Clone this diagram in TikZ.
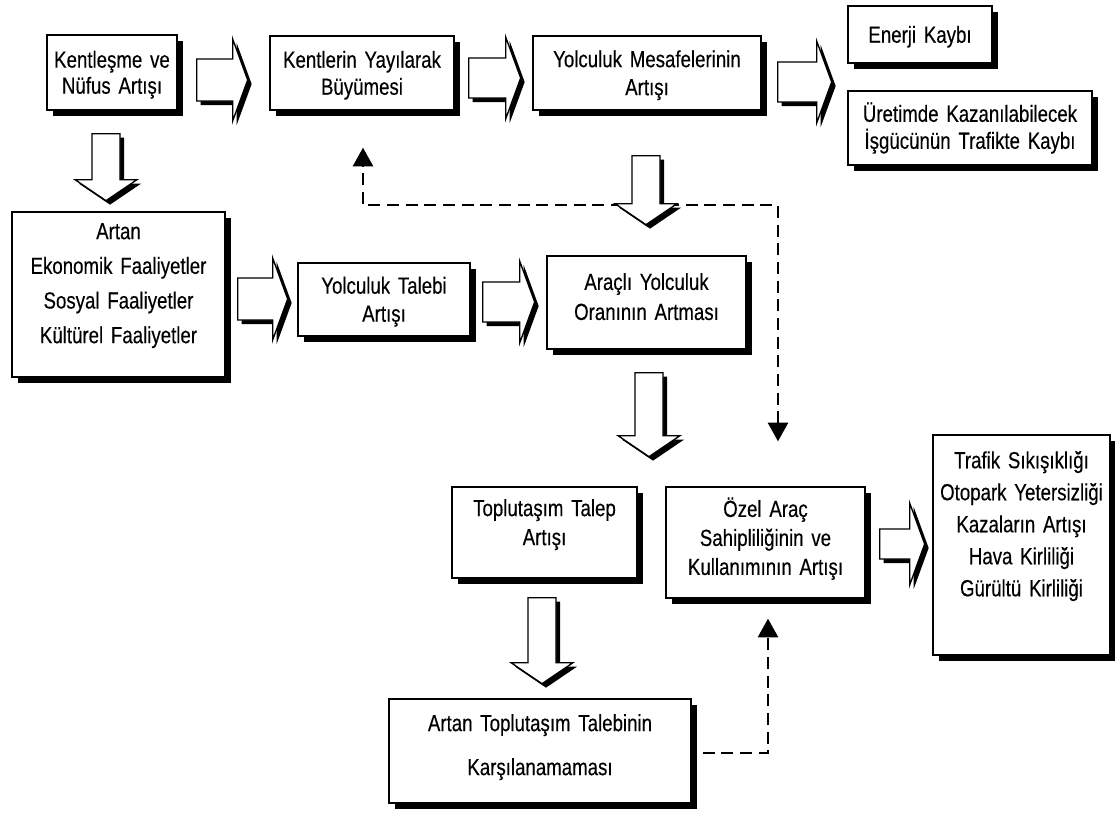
\documentclass[tikz,border=0pt]{standalone}
\usepackage{fontspec}
\setmainfont{Liberation Sans}[FakeStretch=0.80,FakeBold=0.3]
\usetikzlibrary{shadows,arrows.meta,calc}
\newcommand\fsz[1]{\fontsize{17.5pt}{#1}\selectfont}
\newcommand\upby[1]{\rule[-#1]{0pt}{0pt}}
\newcommand\downby[1]{\rule{0pt}{#1}}
\begin{document}
\begin{tikzpicture}[x=0.75pt,y=-0.75pt,
  box/.style={draw, line width=1pt, fill=white, inner sep=0pt, align=center,
    drop shadow={shadow xshift=4.5pt,shadow yshift=-4.5pt,opacity=1,fill=black}},
  barrow/.style={draw, line width=1pt, fill=white, line join=miter,
    drop shadow={shadow xshift=3pt,shadow yshift=-3pt,opacity=1,fill=black}},
  dashline/.style={line width=2pt, dash pattern=on 9pt off 5pt},
  tip/.style={-{Triangle[width=15pt,length=14pt]}},
  pics/rarr/.style 2 args={code={
    \path[barrow] (0,-#2) -- ({#1-15},-#2) -- ({#1-15},-41) -- (#1,0) -- ({#1-15},41) -- ({#1-15},#2) -- (0,#2) -- cycle;}},
  pics/darr/.style={code={
    \path[barrow] (-14,0) -- (-14,{#1-21}) -- (-31,{#1-21}) -- (0,#1) -- (31,{#1-21}) -- (14,{#1-21}) -- (14,0) -- cycle;}},
]
\fill[white] (0,0) rectangle (1115,814);
\useasboundingbox (0,0) rectangle (1115,814);

% boxes
\node[box, minimum width=97.5pt, minimum height=56.25pt, text width=95pt, font=\fsz{19.5pt}] (A) at (112,72.5) {\downby{16pt}Kentleşme ve\\Nüfus Artışı};
\node[box, minimum width=138pt, minimum height=55.5pt, text width=134pt, font=\fsz{20.25pt}] (B) at (362,73) {\downby{16pt}Kentlerin Yayılarak\\Büyümesi};
\node[box, minimum width=171pt, minimum height=55.5pt, text width=167pt, font=\fsz{21pt}] (C) at (647,73) {\downby{16pt}Yolculuk Mesafelerinin\\Artışı};
\node[box, minimum width=108pt, minimum height=42.75pt, text width=104pt, font=\fsz{20pt}] (D) at (920,34.5) {\downby{16pt}Enerji Kaybı};
\node[box, minimum width=183pt, minimum height=55.5pt, text width=180pt, font=\fsz{20.25pt}] (E) at (970,128) {Üretimde Kazanılabilecek\\İşgücünün Trafikte Kaybı};
\node[box, minimum width=159.75pt, minimum height=123.75pt, text width=156pt, font=\fsz{26pt}] (F) at (118.5,294.5) {Artan\\Ekonomik Faaliyetler\\Sosyal Faaliyetler\\Kültürel Faaliyetler\upby{17pt}};
\node[box, minimum width=129pt, minimum height=54.75pt, text width=125pt, font=\fsz{21pt}] (G) at (384,299.5) {\downby{16pt}Yolculuk Talebi\\Artışı};
\node[box, minimum width=149.25pt, minimum height=69.75pt, text width=145pt, font=\fsz{22.5pt}] (H) at (646.5,302.5) {Araçlı Yolculuk\\Oranının Artması\upby{9pt}};
\node[box, minimum width=138.75pt, minimum height=68.25pt, text width=135pt, font=\fsz{21.75pt}] (I) at (544.5,532.5) {Toplutaşım Talep\\Artışı\upby{15.5pt}};
\node[box, minimum width=149.25pt, minimum height=83.25pt, text width=145pt, font=\fsz{21.75pt}] (J) at (765.5,542.5) {Özel Araç\\Sahipliliğinin ve\\Kullanımının Artışı\upby{9.5pt}};
\node[box, minimum width=132.75pt, minimum height=165pt, text width=131pt, font=\fsz{24pt}] (K) at (1021.5,545) {Trafik Sıkışıklığı\\Otopark Yetersizliği\\Kazaların Artışı\\Hava Kirliliği\\Gürültü Kirliliği\upby{32pt}};
\node[box, minimum width=226.5pt, minimum height=78pt, text width=222pt, font=\fsz{33pt}] (L) at (540,751) {Artan Toplutaşım Talebinin\\Karşılanamaması\upby{9.5pt}};

% dashed connectors
\coordinate (bt) at ($(B.south)+(1,37)$);
\coordinate (jt) at ($(J.north)+(12.5,-45)$);
\coordinate (dh) at (0,205);
\draw[dashline, {Triangle[width=15pt,length=14pt]}-{Triangle[width=15pt,length=14pt]}] (jt) -- (jt |- dh) -- (bt |- dh) -- (bt);
\coordinate (ls) at ($(L.east)+(11,2)$);
\coordinate (jb) at ($(J.south)+(2.5,20)$);
\draw[dashline, tip] (ls) -| (jb);

% block arrows
\pic at ($(A.east)+(19,7.5)$) {rarr={51}{21}};
\pic at ($(B.east)+(14,5)$) {rarr={52}{20}};
\pic at ($(C.east)+(16,9)$) {rarr={54}{20}};
\pic at ($(F.east)+(12,4.5)$) {rarr={50}{21}};
\pic at ($(G.east)+(12,2.5)$) {rarr={52}{20}};
\pic at ($(J.east)+(14,1.5)$) {rarr={45}{15}};
\pic at ($(A.south)+(-6,23)$) {darr=67};
\pic at ($(C.south)+(-1,45)$) {darr=69};
\pic at ($(H.south)+(2.5,23)$) {darr=84};
\pic at ($(I.south)+(-2.5,19)$) {darr=86};
\end{tikzpicture}
\end{document}
